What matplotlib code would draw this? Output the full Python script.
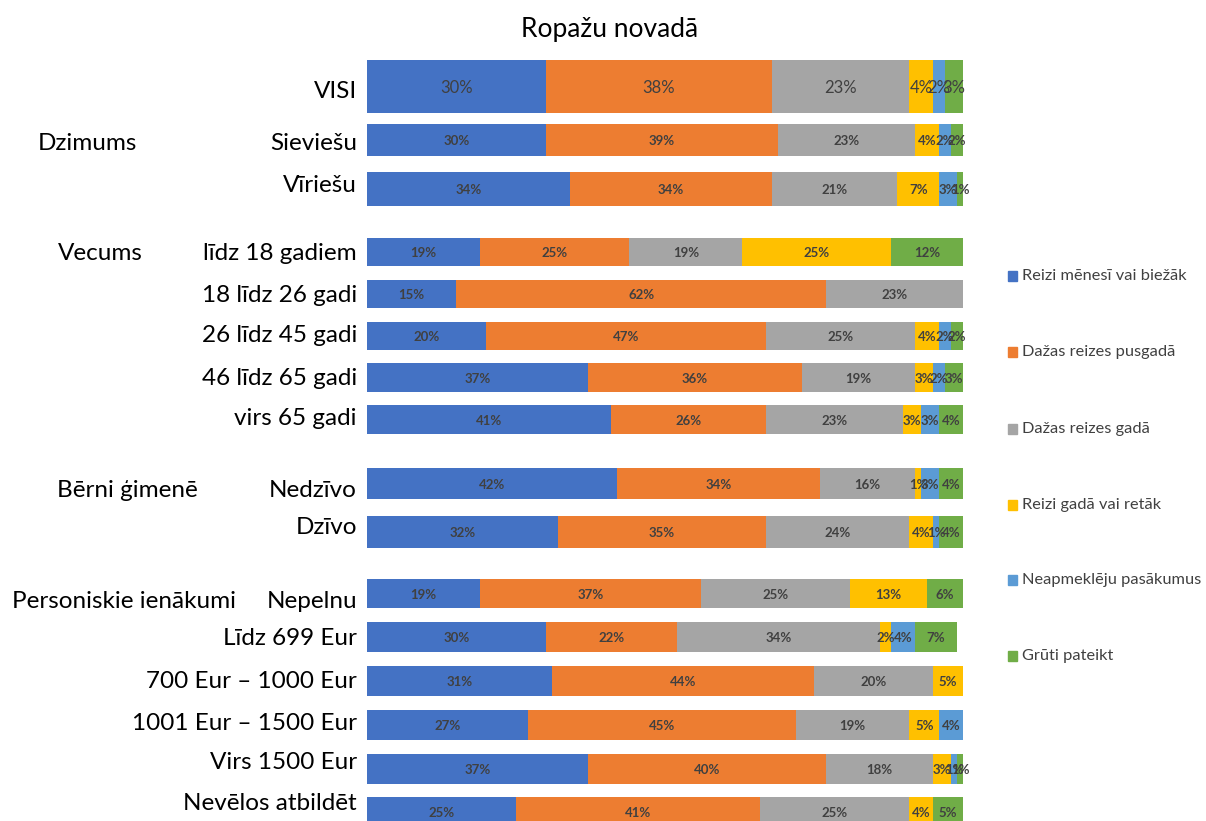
import matplotlib.pyplot as plt
import numpy as np

# dati (procenti)
rindas = ['VISI', 'Sieviešu', 'Vīriešu',
          'līdz 18 gadiem', '18 līdz 26 gadi', '26 līdz 45 gadi', '46 līdz 65 gadi', 'virs 65 gadi',
          'Nedzīvo', 'Dzīvo',
          'Nepelnu', 'Līdz 699 Eur', '700 Eur – 1000 Eur', '1001 Eur – 1500 Eur', 'Virs 1500 Eur',
          'Nevēlos atbildēt']
grupas = ['Dzimums', 'Vecums', 'Bērni ģimenē', 'Personiskie ienākumi']
kategorijas = ['Reizi mēnesī vai biežāk', 'Dažas reizes pusgadā', 'Dažas reizes gadā',
               'Reizi gadā vai retāk', 'Neapmeklēju pasākumus', 'Grūti pateikt']

menesi   = [30, 30, 34, 19, 15, 20, 37, 41, 42, 32, 19, 30, 31, 27, 37, 25]
pusgada  = [38, 39, 34, 25, 62, 47, 36, 26, 34, 35, 37, 22, 44, 45, 40, 41]
gada     = [23, 23, 21, 19, 23, 25, 19, 23, 16, 24, 25, 34, 20, 19, 18, 25]
retak    = [4, 4, 7, 25, 0, 4, 3, 3, 1, 4, 13, 2, 5, 5, 3, 4]
neapmekl = [2, 2, 3, 0, 0, 2, 2, 3, 3, 1, 0, 4, 0, 4, 1, 0]
gruti    = [3, 2, 1, 12, 0, 2, 3, 4, 4, 4, 6, 7, 0, 0, 1, 5]

krasas = ['#4472C4', '#ED7D31', '#A5A5A5', '#FFC000', '#5B9BD5', '#70AD47']

# izkārtojums (pikseļos)
W, H = 1206, 821
rindu_y = [87, 140, 189, 252, 294, 336, 378, 420, 484, 532, 594, 637, 681, 725, 769, 812]
rindu_h = [53, 32, 34, 28, 28, 28, 29, 29, 31, 32, 29, 30, 30, 30, 30, 29]
nosauk_y = [92, 143, 185, 254, 295, 336, 378, 418, 490, 527, 601, 638, 681, 723, 762, 803]
grupu_xy = [(38, 143), (58, 254), (57, 490), (12, 601)]

plt.rcParams['font.family'] = ['Lato', 'DejaVu Sans']

fig = plt.figure(figsize=(W / 100, H / 100), dpi=100)
ax = fig.add_axes([367 / W, 0, 596 / W, 1])
ax.set_xlim(0, 100)
ax.set_ylim(H, 0)
ax.axis('off')

dati = np.array([menesi, pusgada, gada, retak, neapmekl, gruti], dtype=float)
kreisais = np.zeros(len(rindas))
for k in range(len(kategorijas)):
    ax.barh(rindu_y, dati[k], left=kreisais, height=rindu_h, color=krasas[k],
            label=kategorijas[k])
    for i, v in enumerate(dati[k]):
        if v > 0:
            ax.text(kreisais[i] + v / 2, rindu_y[i] + 1, f'{int(v)}%', ha='center', va='center',
                    fontsize=12 if i == 0 else 9.5, color='#404040',
                    fontweight='normal' if i == 0 else 'bold')
    kreisais += dati[k]


def ftext(x, y, s, **kw):
    fig.text(x / W, 1 - y / H, s, va='center', **kw)


ftext(610, 30, 'Ropažu novadā', ha='center', fontsize=19)
for i, r in enumerate(rindas):
    ftext(357, nosauk_y[i], r, ha='right', fontsize=17.5)
for g, (x, y) in zip(grupas, grupu_xy):
    ftext(x, y, g, ha='left', fontsize=17.5)

# leģenda
leg_y = [276, 352, 429, 505, 580, 656]
for k in range(len(kategorijas)):
    fig.patches.append(plt.Rectangle((1008 / W, 1 - (leg_y[k] + 5) / H), 9 / W, 10 / H,
                                     color=krasas[k], transform=fig.transFigure))
    ftext(1022, leg_y[k], kategorijas[k], ha='left', fontsize=11.8, color='#404040')

fig.savefig('out.png', dpi=100)
